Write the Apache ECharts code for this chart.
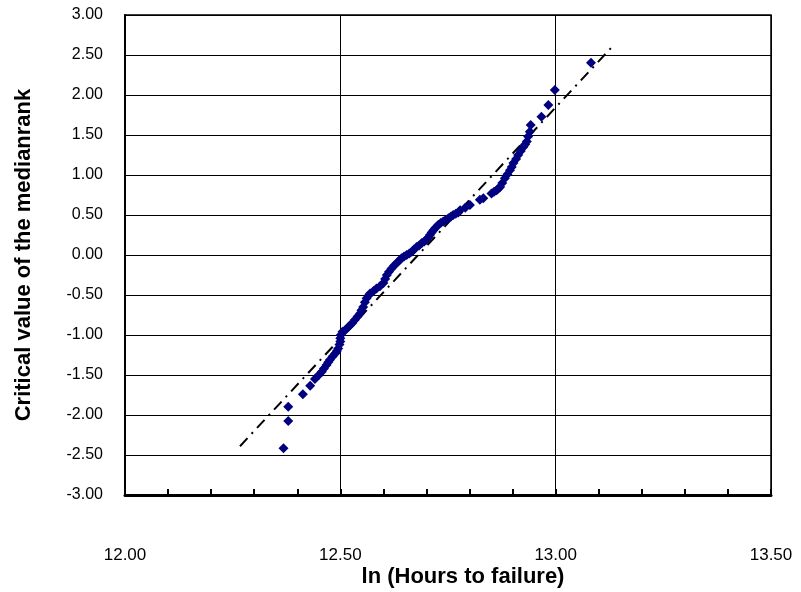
<!DOCTYPE html>
<html>
<head>
<meta charset="utf-8">
<script src="https://cdn.jsdelivr.net/npm/echarts@6/dist/echarts.min.js"></script>
<style>html,body{margin:0;padding:0;background:#fff;}#c{width:801px;height:592px;}</style>
</head>
<body>
<div id="c"></div>
<script>
// Observed points: ln(hours to failure) vs critical value of median rank
var lnHours = [12.368,12.379,12.379,12.413,12.430,12.441,12.450,12.457,12.462,12.468,12.472,12.476,12.482,12.488,12.492,12.495,12.498,12.500,12.500,12.501,12.505,12.511,12.517,12.522,12.528,12.534,12.540,12.546,12.549,12.553,12.557,12.561,12.565,12.569,12.577,12.584,12.592,12.600,12.604,12.608,12.613,12.619,12.625,12.631,12.637,12.642,12.648,12.654,12.660,12.666,12.671,12.677,12.683,12.689,12.695,12.700,12.704,12.708,12.712,12.716,12.721,12.727,12.733,12.739,12.745,12.751,12.757,12.762,12.768,12.774,12.778,12.790,12.801,12.824,12.832,12.851,12.857,12.863,12.867,12.871,12.876,12.882,12.888,12.894,12.898,12.902,12.908,12.913,12.919,12.925,12.929,12.933,12.936,12.940,12.942,12.967,12.983,12.998,13.082];
var medianRank = [-2.416,-2.075,-1.896,-1.74,-1.634,-1.55,-1.50,-1.46,-1.42,-1.375,-1.34,-1.31,-1.27,-1.23,-1.20,-1.17,-1.12,-1.08,-1.04,-1.00,-0.96,-0.94,-0.91,-0.88,-0.85,-0.81,-0.77,-0.73,-0.69,-0.65,-0.59,-0.54,-0.51,-0.48,-0.45,-0.42,-0.39,-0.35,-0.30,-0.25,-0.21,-0.17,-0.13,-0.10,-0.07,-0.04,-0.02,0.00,0.02,0.04,0.07,0.10,0.12,0.15,0.17,0.19,0.22,0.25,0.28,0.31,0.34,0.375,0.40,0.42,0.44,0.46,0.48,0.50,0.515,0.53,0.56,0.59,0.625,0.69,0.71,0.77,0.79,0.81,0.83,0.85,0.90,0.96,1.01,1.06,1.10,1.15,1.20,1.25,1.30,1.35,1.38,1.42,1.48,1.54,1.625,1.729,1.875,2.0625,2.404];
// Fitted trend line end points
var trendX = [12.267, 13.135];
var trendY = [-2.39, 2.625];

var xName = 'ln (Hours to failure)';
var yName = 'Critical value of the medianrank';

var pts = lnHours.map(function(x,i){return [x, medianRank[i]];});
var trend = trendX.map(function(x,i){return [x, trendY[i]];});

var font = "'Liberation Sans', Arial, sans-serif";
var chart = echarts.init(document.getElementById('c'), null, {renderer:'canvas'});
chart.setOption({
  animation:false,
  backgroundColor:'#fff',
  grid:{left:125, right:30, top:15, bottom:97, show:true, borderColor:'#000', borderWidth:1.5, backgroundColor:'transparent', containLabel:false, outerBoundsMode:'none'},
  xAxis:{
    type:'value', min:12, max:13.5, interval:0.5,
    name:xName, nameLocation:'middle', nameGap:71, nameMoveOverlap:false,
    nameTextStyle:{fontFamily:font, fontSize:22, fontWeight:'bold', color:'#000', padding:[0,0,0,30]},
    axisLine:{show:true, onZero:false, lineStyle:{color:'#000', width:3}},
    axisTick:{show:true, inside:true, length:6, lineStyle:{color:'#000', width:2}},
    minorTick:{show:true, splitNumber:5, length:6, lineStyle:{color:'#000', width:2}},
    axisLabel:{margin:52, fontFamily:font, fontSize:17, color:'#000', formatter:function(v){return v.toFixed(2);}},
    splitLine:{show:true, lineStyle:{color:'#000', width:1}}
  },
  yAxis:{
    type:'value', min:-3, max:3, interval:0.5,
    name:yName, nameLocation:'middle', nameGap:90, nameRotate:90, nameMoveOverlap:false,
    nameTextStyle:{fontFamily:font, fontSize:22, fontWeight:'bold', color:'#000'},
    axisLine:{show:true, onZero:false, lineStyle:{color:'#000', width:2}},
    axisTick:{show:false},
    axisLabel:{margin:22, fontFamily:font, fontSize:16, color:'#000', formatter:function(v){return v.toFixed(2);}},
    splitLine:{show:true, lineStyle:{color:'#000', width:1}}
  },
  series:[
    {type:'line', data:trend, symbol:'none', silent:true, z:3,
     lineStyle:{color:'#000', width:2, type:[11,6,2,6]}},
    {type:'scatter', data:pts, symbol:'diamond', symbolSize:10, z:4,
     itemStyle:{color:'#000080', opacity:1}}
  ]
});
</script>
</body>
</html>
